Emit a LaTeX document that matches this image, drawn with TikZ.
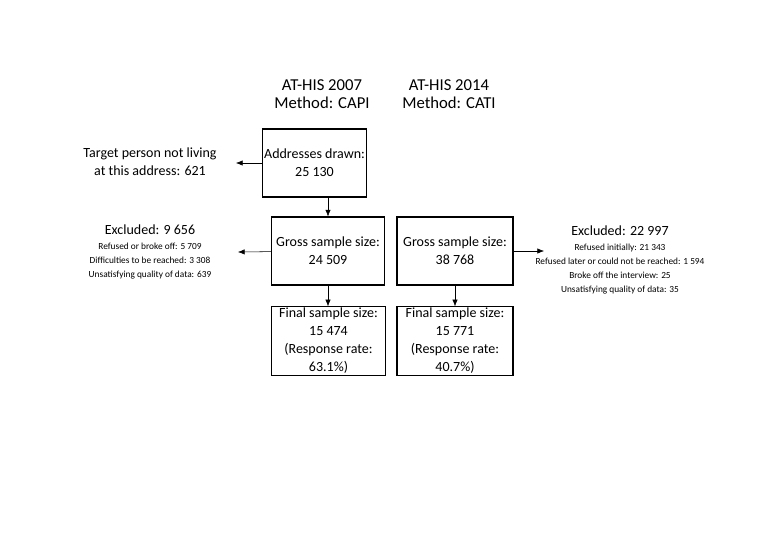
\documentclass[tikz,border=0pt]{standalone}
\usepackage{fontspec}
\setmainfont{Carlito}
\usetikzlibrary{positioning, arrows.meta}
\tikzset{
  box/.style={draw, thick, align=center, font=\fontsize{10.5}{13.5}\selectfont, inner sep=1pt},
  info/.style={align=center, font=\fontsize{10.5}{13.5}\selectfont},
  flow/.style={-{Latex[length=5pt,width=4pt]}}
}
\newcommand{\detail}{\fontsize{7}{9.75}\selectfont}
\begin{document}
\begin{tikzpicture}[x=0.75pt, y=-0.75pt]
\useasboundingbox (0,0) rectangle (779,551);
% headers
\node[info, font=\fontsize{12.5}{14}\selectfont] (capi) at (322,94) {AT-HIS 2007\\Method: CAPI};
\node[info, font=\fontsize{12.5}{14}\selectfont] (cati) at (449,94) {AT-HIS 2014\\Method: CATI};
% boxes
\node[box, minimum width=65pt, minimum height=51pt] (addr) at (314.5,163) {Addresses drawn:\\25 130};
\node[box, minimum width=85pt, minimum height=51pt] (gcapi) at (328,251) {Gross sample size:\\24 509};
\node[box, minimum width=87pt, minimum height=51pt] (gcati) at (455,251) {Gross sample size:\\38 768};
\node[box, minimum width=86pt, minimum height=51pt] (fcapi) at (328.5,341) {Final sample size:\\15 474\\(Response rate:\\63.1\%)};
\node[box, minimum width=87pt, minimum height=51pt] (fcati) at (455,341) {Final sample size:\\15 771\\(Response rate:\\40.7\%)};
% side texts
\node[info] (target) at (150,162) {Target person not living\\at this address: 621};
\node[info, anchor=north] (exl) at (150,220) {Excluded: 9 656\\[-2pt]{\detail Refused or broke off: 5 709}\\[-3pt]{\detail Difficulties to be reached: 3 308}\\[-3pt]{\detail Unsatisfying quality of data: 639}};
\node[info, anchor=north] (exr) at (620,221) {Excluded: 22 997\\[-2pt]{\detail Refused initially: 21 343}\\[-3pt]{\detail Refused later or could not be reached: 1 594}\\[-3pt]{\detail Broke off the interview: 25}\\[-3pt]{\detail Unsatisfying quality of data: 35}};
\coordinate (tl) at (236,163);
\coordinate (el) at (238,252);
\coordinate (er) at (544,251);
% arrows
\draw[flow] (addr) -- (tl);
\draw[flow] (gcapi) -- (el);
\draw[flow] (gcati) -- (er);
\draw[flow] (gcapi.north |- addr.south) -- (gcapi.north);
\draw[flow] (gcapi.south) -- (fcapi.north -| gcapi.south);
\draw[flow] (gcati.south) -- (fcati.north);
\end{tikzpicture}
\end{document}
